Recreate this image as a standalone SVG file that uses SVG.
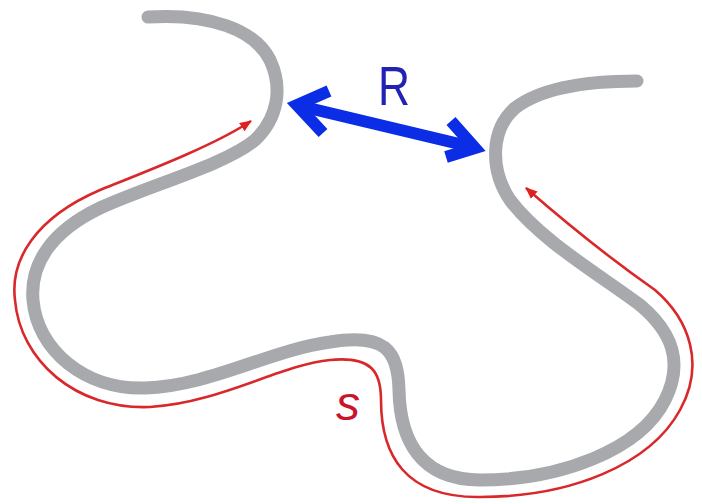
<svg xmlns="http://www.w3.org/2000/svg" width="702" height="504" viewBox="0 0 702 504">
<style>
.chain{fill:none;stroke:#a7a9ac;stroke-width:13;stroke-linecap:round;stroke-linejoin:round}
.path{fill:none;stroke:#d8282a;stroke-width:2.6}
.dist{fill:none;stroke:#0b2de6;stroke-width:12;stroke-linejoin:miter;stroke-miterlimit:10}
.lbl{font-family:"Liberation Sans",Arial,sans-serif}
</style>
<defs>
<marker id="redhead" markerUnits="userSpaceOnUse" markerWidth="14" markerHeight="12" refX="11" refY="5" orient="auto-start-reverse">
<path d="M0,0 L12,5 L0,10 Z" fill="#e0201e"/>
</marker>
</defs>
<g id="chain">
<path class="chain" d="M148,17 C210,13 255,30 270,60 C283,88 278,118 255,140 C225,165 150,185 100,208 C50,232 30,265 33,300 C37,350 85,390 145,388 C210,386 270,350 330,342 C385,333 398,350 399,390 C400,440 420,480 480,480 C560,480 640,450 665,400 C685,360 670,330 640,305 C600,275 540,240 510,200 C490,170 490,130 515,108 C545,85 595,81 637,81"/>
</g>
<g id="connectors">
<path class="path" marker-start="url(#redhead)" marker-end="url(#redhead)" d="M251,121 C215,145 150,170 100,190 C35,218 10,260 15,300 C20,360 75,410 150,407 C220,403 280,365 330,360 C372,356 381,372 381,400 C381,455 405,498 480,497 C570,497 650,465 680,410 C705,365 690,320 655,290 C615,262 565,222 526,188"/>
<g id="R-arrow">
<path class="dist" d="M300,106 L472,147"/>
<path class="dist" d="M329,91 L297,105 L323,133"/>
<path class="dist" d="M451,121 L475,148 L446,157"/>
</g>
</g>
<g id="label-R"><text class="lbl" x="378" y="105" font-size="55" fill="#2222b4" textLength="32" lengthAdjust="spacingAndGlyphs">R</text></g>
<g id="label-s"><text class="lbl" x="336" y="420" font-size="48" font-style="italic" fill="#c8142c">s</text></g>
</svg>
